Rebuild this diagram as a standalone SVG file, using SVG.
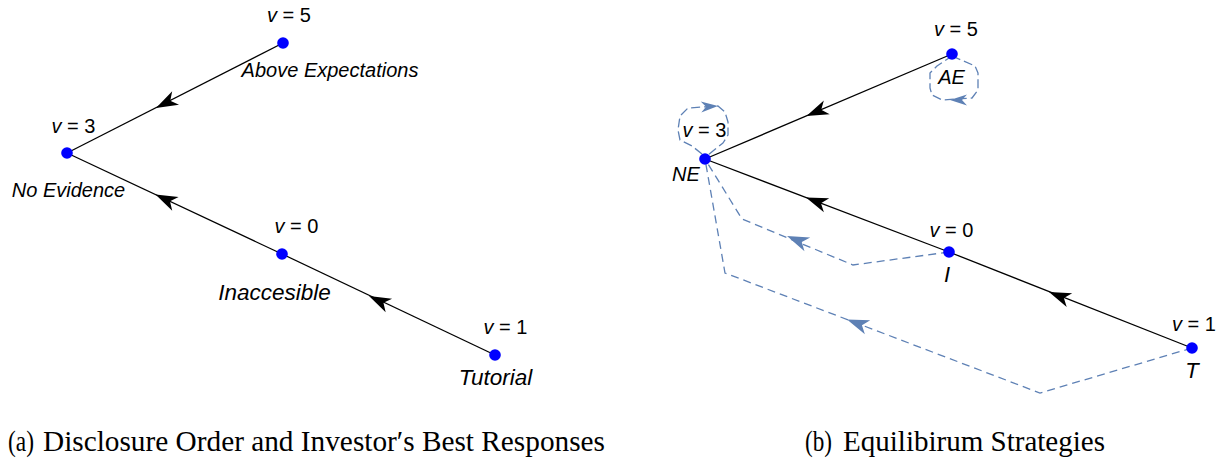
<svg xmlns="http://www.w3.org/2000/svg" xmlns:xlink="http://www.w3.org/1999/xlink" width="1218" height="459" viewBox="0 0 1218 459">
<style>
.edge{stroke:#000;stroke-width:1.3;fill:none}
.strat{stroke:#5e81b5;stroke-width:1.3;fill:none;stroke-dasharray:8 5}
.loop{stroke:#5e81b5;stroke-width:1.3;fill:none;stroke-dasharray:9 4;stroke-linejoin:round}
.node{fill:#0000ff}
.lbl{font-family:"Liberation Sans",Arial,sans-serif;font-size:20px;fill:#000;text-anchor:middle}
.name{font-family:"Liberation Sans",Arial,sans-serif;font-style:italic;fill:#000;text-anchor:middle}
.cap{font-family:"Liberation Serif","Times New Roman",serif;font-size:29px;fill:#000}
</style>
<defs>
<path id="ahK" d="M0,0 L-22,-7.5 L-16,0 L-22,7.5 Z" fill="#000"/>
<path id="ahB" d="M0,0 L-22,-7.5 L-16,0 L-22,7.5 Z" fill="#5e81b5"/>
<path id="ahS" d="M0,0 L-17,-5.5 L-12,0 L-17,5.5 Z" fill="#5e81b5"/>
</defs>

<g id="connectors">
<!-- left panel -->
<line class="edge" x1="283" y1="43" x2="67" y2="153"/>
<use xlink:href="#ahK" transform="translate(156,108) rotate(153)"/>
<line class="edge" x1="282" y1="254" x2="67" y2="153"/>
<use xlink:href="#ahK" transform="translate(155.5,194.5) rotate(205.2)"/>
<line class="edge" x1="495" y1="355" x2="282" y2="254"/>
<use xlink:href="#ahK" transform="translate(369,296) rotate(205.4)"/>
<!-- right panel -->
<line class="edge" x1="952" y1="54" x2="705" y2="159"/>
<use xlink:href="#ahK" transform="translate(806.5,116) rotate(157)"/>
<line class="edge" x1="949" y1="252" x2="705" y2="159"/>
<use xlink:href="#ahK" transform="translate(806,197.5) rotate(200.9)"/>
<line class="edge" x1="1192" y1="348" x2="949" y2="252"/>
<use xlink:href="#ahK" transform="translate(1049,292) rotate(201.6)"/>
<!-- strategy paths -->
<path class="strat" d="M949,252 L853,265 L742,219 L705,159"/>
<use xlink:href="#ahB" transform="translate(787,236) rotate(202.5)"/>
<path class="strat" d="M1192,348 L1040,393 L725,273 L705,159"/>
<use xlink:href="#ahB" transform="translate(847,319.5) rotate(200.9)"/>
<path class="loop" d="M952,56 L975,66 L978,73 L978,90 L972,98 L942,100 L932,95 L930,88 L930,73 L937,66 Z"/>
<use xlink:href="#ahS" transform="translate(950,100) rotate(180)"/>
<path class="loop" d="M702,154 L692,146 L680,140 L678,130 L680,116 L688,108 L718,106 L725,112 L728,122 L728,135 L723,143 L708,155"/>
<use xlink:href="#ahS" transform="translate(718,106) rotate(-3)"/>
</g>

<g id="L5"><circle class="node" cx="283" cy="43" r="5.8"/><text class="lbl" x="289" y="22"><tspan font-style="italic">v</tspan> = 5</text><text class="name" x="330" y="77" font-size="20">Above Expectations</text></g>
<g id="L3"><circle class="node" cx="67" cy="153" r="5.8"/><text class="lbl" x="73.5" y="133"><tspan font-style="italic">v</tspan> = 3</text><text class="name" x="68.5" y="197" font-size="20">No Evidence</text></g>
<g id="L0"><circle class="node" cx="282" cy="254" r="5.8"/><text class="lbl" x="296.5" y="233"><tspan font-style="italic">v</tspan> = 0</text><text class="name" x="274.5" y="300" font-size="22.5">Inaccesible</text></g>
<g id="L1"><circle class="node" cx="495" cy="355" r="5.8"/><text class="lbl" x="505.5" y="334"><tspan font-style="italic">v</tspan> = 1</text><text class="name" x="495.5" y="385" font-size="22.5">Tutorial</text></g>

<g id="R5"><circle class="node" cx="952" cy="54" r="5.8"/><text class="lbl" x="956" y="36"><tspan font-style="italic">v</tspan> = 5</text><text class="name" x="951.5" y="84" font-size="20">AE</text></g>
<g id="R3"><circle class="node" cx="705" cy="159" r="5.8"/><text class="lbl" x="704.5" y="137"><tspan font-style="italic">v</tspan> = 3</text><text class="name" x="686" y="181" font-size="20">NE</text></g>
<g id="R0"><circle class="node" cx="949" cy="252" r="5.8"/><text class="lbl" x="951.5" y="237"><tspan font-style="italic">v</tspan> = 0</text><text class="name" x="947" y="282" font-size="22">I</text></g>
<g id="R1"><circle class="node" cx="1192" cy="348" r="5.8"/><text class="lbl" x="1194" y="331"><tspan font-style="italic">v</tspan> = 1</text><text class="name" x="1192" y="378" font-size="22">T</text></g>

<g id="captions">
<text class="cap" x="8" y="451" textLength="26" lengthAdjust="spacingAndGlyphs">(a)</text>
<text class="cap" x="43" y="451" textLength="562" lengthAdjust="spacingAndGlyphs">Disclosure Order and Investor′s Best Responses</text>
<text class="cap" x="805" y="451" textLength="27" lengthAdjust="spacingAndGlyphs">(b)</text>
<text class="cap" x="843" y="451" textLength="262" lengthAdjust="spacingAndGlyphs">Equilibirum Strategies</text>
</g>
</svg>
